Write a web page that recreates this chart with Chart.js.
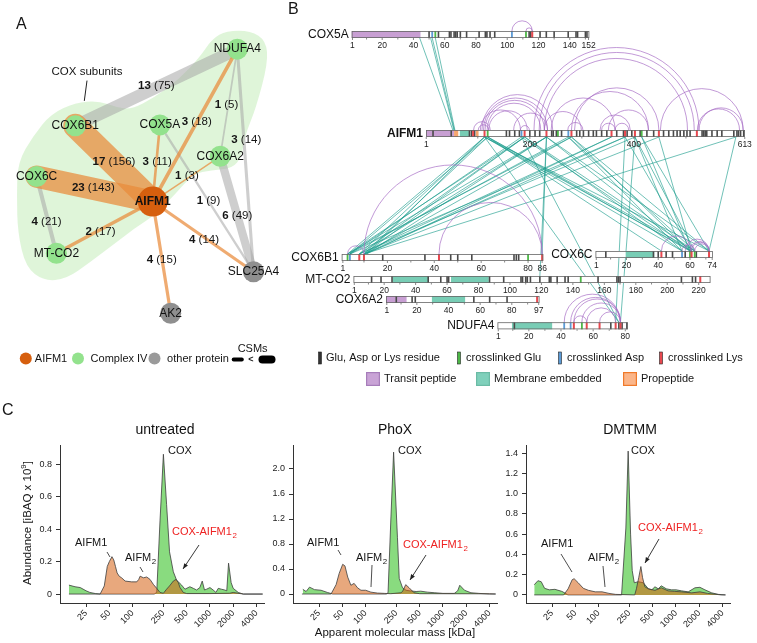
<!DOCTYPE html>
<html><head><meta charset="utf-8">
<script src="https://cdn.jsdelivr.net/npm/chart.js@4/dist/chart.umd.min.js"></script>
<style>
html,body{margin:0;padding:0;background:#fff;}
#wrap{position:relative;width:757px;height:643px;overflow:hidden;background:#fff;}
canvas{position:absolute;}
</style></head><body>
<div id="wrap">
<canvas id="cA" style="left:0;top:0" width="300" height="392"></canvas>
<canvas id="cB" style="left:280px;top:0" width="477" height="392"></canvas>
<canvas id="cU" style="left:0;top:395px" width="270" height="248"></canvas>
<canvas id="cP" style="left:233px;top:395px" width="270" height="248"></canvas>
<canvas id="cD" style="left:466px;top:395px" width="270" height="248"></canvas>
</div>
<script>
// ================= DATA =================
// Panel A : crosslink network
const nodeNames = ['NDUFA4','COX6B1','COX5A','COX6A2','COX6C','AIFM1','MT-CO2','SLC25A4','AK2'];
const nodeGroup = ['complexIV','complexIV','complexIV','complexIV','complexIV','AIFM1','complexIV','other','other'];
const edgeFrom  = ['COX6B1','COX6B1','COX6C','COX5A','NDUFA4','COX6A2','MT-CO2','AK2','SLC25A4','COX6C','COX5A','COX6A2','NDUFA4','COX6A2'];
const edgeTo    = ['NDUFA4','AIFM1','AIFM1','AIFM1','AIFM1','AIFM1','AIFM1','AIFM1','AIFM1','MT-CO2','SLC25A4','NDUFA4','SLC25A4','SLC25A4'];
const edgeLinks = [13,17,23,3,3,1,2,4,4,4,1,1,3,6];
const edgeCSMs  = [75,156,143,11,18,3,17,15,14,21,9,5,14,49];

// Panel B : protein maps
const bProteins = ['COX5A','AIFM1','COX6B1','COX6C','MT-CO2','COX6A2','NDUFA4'];
const bLength = {COX5A:152, AIFM1:613, COX6B1:86, COX6C:74, 'MT-CO2':227, COX6A2:97, NDUFA4:81};
const bTransit = {COX5A:[[1,44]], AIFM1:[[1,54]], COX6A2:[[1,13]]};
const bMembrane = {AIFM1:[[66,85]], COX6C:[[20,37]], 'MT-CO2':[[26,48],[63,86]], COX6A2:[[30,50]], NDUFA4:[[10,34]]};
const bPropeptide = {AIFM1:[[55,62],[97,101]]};
const bResidues = {
  COX5A:[50,56,63,64,66,67,68,70,74,82,86,87,89,92,114,115,121,125,130,139,144,145,150,151],
  AIFM1:[14,49,84,88,94,155,161,171,180,200,210,219,242,245,251,261,290,296,303,313,322,328,338,348,367,380,387,396,412,425,438,457,467,476,483,489,496,502,508,531,534,537,540,550,560,569,592,598,601,605,611],
  COX6B1:[18,36,47,50,56,74,75,76],
  COX6C:[7,37,40,45,49,57,64],
  'MT-CO2':[12,18,25,48,56,60,61,87,96,107,108,110,111,113,119,125,126,130,135,137,156,168,169,170,209,216,218],
  COX6A2:[7,17,19,56,66,77],
  NDUFA4:[11,71,76,78,81]
};
const bXlGlu = {COX5A:[54,112], AIFM1:[119,254,415], COX6B1:[3,80], COX6C:[60,63], 'MT-CO2':[145], NDUFA4:[53]};
const bXlAsp = {COX5A:[52,103], AIFM1:[184,274], COX6B1:[4], COX6C:[55], NDUFA4:[42,46]};
const bXlLys = {COX5A:[116], AIFM1:[91,113,190,232,280,357,383,402,448,521], COX6B1:[8,10,42,86], COX6C:[42,61,72], 'MT-CO2':[221], COX6A2:[96], NDUFA4:[48,56,64,74,77]};
const bTickLabels = {
  COX5A:[1,20,40,60,80,100,120,140,152], AIFM1:[1,200,400,613], COX6B1:[1,20,40,60,80,86],
  COX6C:[1,20,40,60,74], 'MT-CO2':[1,20,40,60,80,100,120,140,160,180,200,220],
  COX6A2:[1,20,40,60,80,97], NDUFA4:[1,20,40,60,80]
};
const bIntra = {
  COX5A:[[103,116],[112,116]],
  AIFM1:[[92,124],[101,121],[105,182],[108,244],[111,234],[114,228],[118,221],[121,195],[169,234],[182,199],[208,525],[218,516],[228,503],[228,299],[241,364],[273,302],[280,428],[286,448],[335,393],[338,364],[364,390],[351,428],[451,610],[525,610],[522,603]],
  COX6B1:[[3,10],[10,86],[42,86]],
  COX6C:[[42,61],[55,63],[60,72],[61,72],[63,72],[57,72]],
  NDUFA4:[[42,77],[46,77],[48,77],[53,77],[56,74],[64,77],[48,56]]
};
const bInter = [
  ['COX5A',44,'AIFM1',52],['COX5A',51,'AIFM1',54],['COX5A',52,'AIFM1',55],['COX5A',54,'AIFM1',56],
  ['AIFM1',113,'COX6B1',3],['AIFM1',190,'COX6B1',3],['AIFM1',232,'COX6B1',3],['AIFM1',280,'COX6B1',3],
  ['AIFM1',119,'COX6B1',4],['AIFM1',184,'COX6B1',4],['AIFM1',274,'COX6B1',4],['AIFM1',383,'COX6B1',4],
  ['AIFM1',113,'COX6B1',8],['AIFM1',190,'COX6B1',8],['AIFM1',232,'COX6B1',8],['AIFM1',357,'COX6B1',8],['AIFM1',402,'COX6B1',8],
  ['AIFM1',119,'COX6B1',10],['AIFM1',190,'COX6B1',10],['AIFM1',280,'COX6B1',10],['AIFM1',383,'COX6B1',10],['AIFM1',448,'COX6B1',10],['AIFM1',596,'COX6B1',10],
  ['AIFM1',113,'COX6B1',11],['AIFM1',232,'COX6B1',11],['AIFM1',357,'COX6B1',11],['AIFM1',232,'COX6B1',86],
  ['AIFM1',113,'COX6C',55],['AIFM1',190,'COX6C',55],['AIFM1',274,'COX6C',55],['AIFM1',402,'COX6C',55],
  ['AIFM1',119,'COX6C',60],['AIFM1',184,'COX6C',60],['AIFM1',280,'COX6C',60],['AIFM1',415,'COX6C',60],
  ['AIFM1',113,'COX6C',61],['AIFM1',232,'COX6C',61],['AIFM1',383,'COX6C',61],['AIFM1',448,'COX6C',61],
  ['AIFM1',119,'COX6C',63],['AIFM1',190,'COX6C',63],['AIFM1',274,'COX6C',63],['AIFM1',402,'COX6C',63],
  ['AIFM1',113,'COX6C',72],['AIFM1',232,'COX6C',72],['AIFM1',280,'COX6C',72],['AIFM1',596,'COX6C',72],['AIFM1',415,'COX6C',72],['AIFM1',119,'COX6C',42],
  ['AIFM1',113,'NDUFA4',76],['AIFM1',402,'NDUFA4',77],['AIFM1',383,'NDUFA4',74],['AIFM1',184,'NDUFA4',76],
  ['AIFM1',232,'MT-CO2',119]
];

// Panel C : abundance profiles [apparent mass kDa, iBAQ x 1e9]
const massTicks = [25,50,100,250,500,1000,2000,4000];
const untreatedCOX = [[15,0.055],[18,0.045],[21,0.04],[25,0.02],[28,0.01],[33,0.003],[38,0],[190,0],[205,0.01],[226,0.45],[250,0.86],[275,0.55],[300,0.26],[336,0.137],[370,0.086],[430,0.055],[475,0.03],[550,0.045],[610,0.035],[672,0.025],[740,0.04],[795,0.08],[850,0.025],[906,0.03],[1000,0.04],[1100,0.025],[1195,0.01],[1280,0.035],[1400,0.03],[1550,0.025],[1650,0.02],[1740,0.19],[1880,0.07],[2000,0.035],[2320,0.01],[2690,0],[4800,0]];
const untreatedAIFM1 = [[15,0],[38,0],[43,0.05],[47,0.17],[50,0.2],[54,0.23],[57,0.21],[60,0.17],[63,0.13],[67,0.11],[72,0.1],[80,0.08],[97,0.075],[113,0.075],[120,0.09],[125,0.11],[138,0.1],[152,0.105],[168,0.09],[185,0.06],[205,0.035],[226,0.01],[250,0.005],[275,0.03],[300,0.05],[336,0.08],[364,0.09],[390,0.07],[410,0.04],[452,0.01],[500,0.003],[1000,0.003],[1800,0.005],[2000,0.01],[2300,0.005],[2700,0],[4800,0]];
const phoxCOX = [[15.4,0.075],[17,0.04],[18.8,0.11],[21.8,0.07],[26.5,0.06],[32,0.025],[37.5,0],[185,0],[195,0.02],[212,1.2],[230,2.27],[258,0.9],[272,0.25],[300,0.1],[333,0.06],[376,0.05],[450,0.04],[517,0.045],[627,0.03],[784,0.02],[1000,0.01],[1400,0.01],[1550,0.05],[1650,0.14],[1900,0.06],[2300,0.02],[2900,0.01],[4000,0],[4800,0]];
const phoxAIFM1 = [[15,0],[35.7,0],[41.5,0.15],[45.5,0.33],[50.5,0.475],[54,0.45],[58.7,0.27],[64.5,0.14],[71,0.17],[78.5,0.1],[87,0.06],[100,0.06],[117,0.03],[142,0.015],[174,0.01],[212,0.005],[286,0.02],[300,0.04],[330,0.15],[365,0.1],[423,0.02],[500,0.005],[4000,0.003],[4800,0]];
const dmtmmCOX = [[14.7,0.1],[16.4,0.14],[18.1,0.13],[20,0.065],[23,0.05],[27.2,0.055],[33.3,0.035],[36.4,0.02],[40,0],[198,0],[225,0.66],[241,1.42],[259,0.6],[272,0.24],[289,0.12],[325,0.13],[378,0.12],[440,0.06],[487,0.05],[535,0.08],[591,0.06],[646,0.09],[750,0.06],[875,0.05],[1010,0.05],[1180,0.04],[1440,0.03],[1760,0.07],[2040,0.075],[2370,0.05],[2900,0.02],[3550,0.005],[4370,0]];
const dmtmmAIFM1 = [[14.7,0],[35.3,0],[40.3,0.06],[45.5,0.15],[48.2,0.16],[54.4,0.12],[63.4,0.065],[73.8,0.045],[90.6,0.03],[111,0.03],[136,0.015],[166,0.005],[293,0],[308,0.06],[330,0.17],[352,0.28],[370,0.17],[396,0.08],[440,0.06],[535,0.045],[646,0.07],[790,0.04],[960,0.035],[1180,0.03],[1600,0.02],[2040,0.03],[2560,0.015],[3840,0],[4370,0]];
const untreatedYTicks = [0,0.2,0.4,0.6,0.8];
const phoxYTicks = [0,0.4,0.8,1.2,1.6,2.0];
const dmtmmYTicks = [0,0.2,0.4,0.6,0.8,1.0,1.2,1.4];

// ================= LAYOUT / STYLE =================
const FONT = '"Liberation Sans", Arial, Helvetica, sans-serif';
Chart.defaults.font.family = FONT;
const nodeLayout = {NDUFA4:[247,37], COX6B1:[67,120], COX5A:[161,119], COX6A2:[228,153], COX6C:[24,175], AIFM1:[153,202], 'MT-CO2':[46,258], SLC25A4:[265,278], AK2:[173,323]};
const edgeLabelPos = [[157,77],[110,159],[87,187],[158,159],[202,116],[191,174],[95,235],[163,265],[210,243],[35,224],[215,201],[235,97],[257,135],[247,217]];
const hullPath = [[3,160],[20,131],[40,107],[67,95],[93,93],[112,100],[130,102],[155,89],[182,70],[205,46],[219,26],[235,17],[262,17],[279,28],[281,52],[268,100],[255,132],[252,153],[242,166],[218,168],[198,172],[178,194],[155,217],[133,231],[110,248],[83,268],[57,286],[32,288],[12,273],[3,236],[2,195]];
const groupColor = {complexIV:'#93E28D', AIFM1:'#D65F0E', other:'#8F8F8F'};
const bLayout = {
  COX5A:{x0:351.7,x1:589.3,y:31}, AIFM1:{x0:426,x1:745,y:130}, COX6B1:{x0:341.7,x1:543.3,y:254},
  COX6C:{x0:595.5,x1:713,y:251}, 'MT-CO2':{x0:353.5,x1:710.5,y:276}, COX6A2:{x0:386,x1:539.5,y:296},
  NDUFA4:{x0:497.5,x1:627.7,y:322.3}
};
const BAR_H = 7;

function txt(ctx, s, x, y, o) {
  o = o || {};
  ctx.save();
  ctx.font = (o.weight ? o.weight + ' ' : '') + (o.size || 11) + 'px ' + FONT;
  ctx.fillStyle = o.color || '#151515';
  ctx.textAlign = o.align || 'left';
  ctx.textBaseline = o.baseline || 'middle';
  ctx.fillText(s, x, y);
  ctx.restore();
}
function txtSub(ctx, main, sub, x, y, size, color) {
  ctx.save();
  ctx.font = size + 'px ' + FONT; ctx.fillStyle = color; ctx.textAlign = 'left'; ctx.textBaseline = 'middle';
  ctx.fillText(main, x, y);
  const w = ctx.measureText(main).width;
  ctx.font = (size * 0.72) + 'px ' + FONT;
  ctx.fillText(sub, x + w + 0.5, y + size * 0.32);
  ctx.restore();
}
function seg(ctx, p, color, w) {
  ctx.save(); ctx.strokeStyle = color || '#222'; ctx.lineWidth = w || 0.9;
  ctx.beginPath(); ctx.moveTo(p[0], p[1]); ctx.lineTo(p[2], p[3]); ctx.stroke(); ctx.restore();
}
function arrow(ctx, p) {
  const [x1, y1, x2, y2] = p;
  seg(ctx, p, '#222', 0.9);
  const a = Math.atan2(y2 - y1, x2 - x1), L = 6, W = 0.38;
  ctx.save(); ctx.fillStyle = '#222'; ctx.beginPath();
  ctx.moveTo(x2, y2);
  ctx.lineTo(x2 - L * Math.cos(a - W), y2 - L * Math.sin(a - W));
  ctx.lineTo(x2 - L * Math.cos(a + W), y2 - L * Math.sin(a + W));
  ctx.closePath(); ctx.fill(); ctx.restore();
}

// ================= PANEL A =================
const edgeWidth = c => 1 + 0.148 * c;
const aDatasets = [];
aDatasets.push({
  type:'scatter', label:'nodes',
  data: nodeNames.map(n => ({x:nodeLayout[n][0], y:nodeLayout[n][1]})),
  pointRadius: nodeNames.map(n => n === 'AIFM1' ? 15 : 10.5),
  backgroundColor: nodeGroup.map(g => groupColor[g]),
  borderWidth: 0, order: 0
});
edgeFrom.forEach((f, i) => {
  const t = edgeTo[i];
  const orange = (f === 'AIFM1' || t === 'AIFM1');
  aDatasets.push({
    type:'line', label:f + '-' + t,
    data:[{x:nodeLayout[f][0], y:nodeLayout[f][1]}, {x:nodeLayout[t][0], y:nodeLayout[t][1]}],
    borderColor: orange ? 'rgba(233,138,58,0.72)' : 'rgba(165,165,165,0.55)',
    borderWidth: edgeWidth(edgeCSMs[i]), borderCapStyle:'round',
    pointRadius:0, fill:false, tension:0, order: orange ? 1 : 2
  });
});
const aPlugin = {
  id:'aNet',
  beforeDatasetsDraw(chart) {
    const ctx = chart.ctx, sx = v => chart.scales.x.getPixelForValue(v), sy = v => chart.scales.y.getPixelForValue(v);
    const pts = hullPath.map(p => [sx(p[0]), sy(p[1])]);
    const n = pts.length;
    ctx.save(); ctx.fillStyle = 'rgba(150,222,128,0.30)'; ctx.beginPath();
    const mid = (a, b) => [(a[0] + b[0]) / 2, (a[1] + b[1]) / 2];
    let m0 = mid(pts[n - 1], pts[0]);
    ctx.moveTo(m0[0], m0[1]);
    for (let i = 0; i < n; i++) {
      const m = mid(pts[i], pts[(i + 1) % n]);
      ctx.quadraticCurveTo(pts[i][0], pts[i][1], m[0], m[1]);
    }
    ctx.closePath(); ctx.fill(); ctx.restore();
  },
  afterDatasetsDraw(chart) {
    const ctx = chart.ctx, sx = v => chart.scales.x.getPixelForValue(v), sy = v => chart.scales.y.getPixelForValue(v);
    nodeNames.forEach(n => {
      txt(ctx, n, sx(nodeLayout[n][0]), sy(nodeLayout[n][1]), {size:12, align:'center', weight: n === 'AIFM1' ? 'bold' : '', color:'#111'});
    });
    edgeLinks.forEach((k, i) => {
      const a = String(k), b = ' (' + edgeCSMs[i] + ')';
      ctx.save();
      ctx.font = 'bold 11.5px ' + FONT; const wa = ctx.measureText(a).width;
      ctx.font = '11.5px ' + FONT; const wb = ctx.measureText(b).width;
      ctx.restore();
      const x0 = sx(edgeLabelPos[i][0]) - (wa + wb) / 2, y = sy(edgeLabelPos[i][1]);
      txt(ctx, a, x0, y, {size:11.5, weight:'bold'});
      txt(ctx, b, x0 + wa, y, {size:11.5});
    });
    txt(ctx, 'COX subunits', sx(80), sy(62), {size:11.5, align:'center'});
    seg(ctx, [sx(80), sy(71), sx(77), sy(93)], '#222', 1);
    txt(ctx, 'A', sx(1), sy(10), {size:16});
    // legend
    const ly = sy(372);
    const dot = (x, c) => { ctx.save(); ctx.fillStyle = c; ctx.beginPath(); ctx.arc(sx(x), ly, 6, 0, 2 * Math.PI); ctx.fill(); ctx.restore(); };
    dot(12, groupColor.AIFM1); txt(ctx, 'AIFM1', sx(22), ly, {size:11});
    dot(70, groupColor.complexIV); txt(ctx, 'Complex IV', sx(84), ly, {size:11});
    dot(155, '#9a9a9a'); txt(ctx, 'other protein', sx(169), ly, {size:11});
    const pill = (x0, x1, h) => { ctx.save(); ctx.strokeStyle = '#000'; ctx.lineCap = 'round'; ctx.lineWidth = h; ctx.beginPath(); ctx.moveTo(sx(x0), ly + 1); ctx.lineTo(sx(x1), ly + 1); ctx.stroke(); ctx.restore(); };
    pill(243, 252, 4); txt(ctx, '<', sx(262), ly + 1, {size:9, align:'center', weight:'bold'}); pill(275, 285, 8);
    txt(ctx, 'CSMs', sx(264), sy(362), {size:11, align:'center'});
  }
};
new Chart(document.getElementById('cA'), {
  type:'scatter',
  data:{datasets:aDatasets},
  options:{
    responsive:false, animation:false, events:[], devicePixelRatio:1,
    layout:{padding:0},
    plugins:{legend:{display:false}, tooltip:{enabled:false}},
    scales:{x:{type:'linear', display:false, min:0, max:300}, y:{type:'linear', display:false, min:0, max:392, reverse:true}}
  },
  plugins:[aPlugin]
});

// ================= PANEL B =================
const bPlugin = {
  id:'bMaps',
  afterDatasetsDraw(chart) {
    const ctx = chart.ctx, sx = v => chart.scales.x.getPixelForValue(v), sy = v => chart.scales.y.getPixelForValue(v);
    const rx = (p, r) => { const L = bLayout[p]; return sx(L.x0 + (r - 0.5) / bLength[p] * (L.x1 - L.x0)); };
    const rEdge = (p, r0, r1) => [sx(bLayout[p].x0 + (r0 - 1) / bLength[p] * (bLayout[p].x1 - bLayout[p].x0)), sx(bLayout[p].x0 + r1 / bLength[p] * (bLayout[p].x1 - bLayout[p].x0))];
    const top = p => sy(bLayout[p].y), bot = p => sy(bLayout[p].y + BAR_H);
    // inter-protein crosslinks
    ctx.save(); ctx.strokeStyle = 'rgba(25,155,138,0.78)'; ctx.lineWidth = 0.8;
    bInter.forEach(([pa, ra, pb, rb]) => {
      const up = bLayout[pa].y < bLayout[pb].y;
      const ya = up ? bot(pa) : top(pa), yb = up ? top(pb) : bot(pb);
      ctx.beginPath(); ctx.moveTo(rx(pa, ra), ya); ctx.lineTo(rx(pb, rb), yb); ctx.stroke();
    });
    ctx.restore();
    // intra-protein crosslinks (arcs)
    ctx.save(); ctx.strokeStyle = 'rgba(165,105,195,0.85)'; ctx.lineWidth = 0.8;
    Object.keys(bIntra).forEach(p => {
      bIntra[p].forEach(([a, b]) => {
        const xa = rx(p, a), xb = rx(p, b), c = (xa + xb) / 2, r = Math.abs(xb - xa) / 2;
        ctx.beginPath(); ctx.arc(c, top(p), r, Math.PI, 2 * Math.PI); ctx.stroke();
      });
    });
    ctx.restore();
    // protein bars
    bProteins.forEach(p => {
      const L = bLayout[p], x0 = sx(L.x0), x1 = sx(L.x1), y0 = top(p), y1 = bot(p);
      ctx.save();
      ctx.fillStyle = '#fff'; ctx.fillRect(x0, y0, x1 - x0, y1 - y0);
      const dom = (list, col) => (list[p] || []).forEach(([a, b]) => { const e = rEdge(p, a, b); ctx.fillStyle = col; ctx.fillRect(e[0], y0, e[1] - e[0], y1 - y0); });
      dom(bTransit, '#C89FD3'); dom(bPropeptide, '#F6A56E'); dom(bMembrane, '#78CDB5');
      const tick = (list, col, w) => (list[p] || []).forEach(r => { ctx.fillStyle = col; ctx.fillRect(rx(p, r) - w / 2, y0, w, y1 - y0); });
      tick(bResidues, '#4a4a4a', 1.6);
      tick(bXlGlu, '#4DB847', 1.8); tick(bXlAsp, '#5C9BD6', 1.8); tick(bXlLys, '#E8484F', 2);
      ctx.strokeStyle = '#666'; ctx.lineWidth = 0.8; ctx.strokeRect(x0 + 0.4, y0 + 0.4, x1 - x0 - 0.8, y1 - y0 - 0.8);
      // axis ticks + labels
      const labs = bTickLabels[p];
      ctx.strokeStyle = '#555'; ctx.lineWidth = 0.7;
      labs.forEach(v => {
        const x = rx(p, v);
        ctx.beginPath(); ctx.moveTo(x, y1); ctx.lineTo(x, y1 + 2); ctx.stroke();
        txt(ctx, String(v), x, y1 + 7.5, {size:8.5, align:'center', color:'#222'});
      });
      const minorStep = p === 'AIFM1' ? 100 : (labs[1] - 0) / 2;
      for (let v = minorStep; v < bLength[p]; v += minorStep * 2) {
        const x = rx(p, v); ctx.beginPath(); ctx.moveTo(x, y1); ctx.lineTo(x, y1 + 1.5); ctx.stroke();
      }
      ctx.restore();
      txt(ctx, p, x0 - 3, (y0 + y1) / 2, {size:12, align:'right', weight: p === 'AIFM1' ? 'bold' : '', color:'#111'});
    });
    txt(ctx, 'B', sx(288), sy(10), {size:16});
    // legend
    const y1 = sy(358), y2 = sy(379);
    const bar = (x, col) => { ctx.save(); ctx.fillStyle = col; ctx.fillRect(sx(x) - 1.5, y1 - 6, 3, 12); ctx.strokeStyle = '#222'; ctx.lineWidth = 0.6; ctx.strokeRect(sx(x) - 1.5, y1 - 6, 3, 12); ctx.restore(); };
    bar(320, '#333'); txt(ctx, 'Glu, Asp or Lys residue', sx(326), y1, {size:11});
    bar(459, '#4DB847'); txt(ctx, 'crosslinked Glu', sx(466), y1, {size:11});
    bar(560, '#5C9BD6'); txt(ctx, 'crosslinked Asp', sx(567), y1, {size:11});
    bar(661, '#E8484F'); txt(ctx, 'crosslinked Lys', sx(668), y1, {size:11});
    const box = (x, fill, stroke) => { ctx.save(); ctx.fillStyle = fill; ctx.fillRect(sx(x), y2 - 7, 14, 14); ctx.strokeStyle = stroke; ctx.lineWidth = 1.2; ctx.strokeRect(sx(x) + 0.6, y2 - 6.4, 12.8, 12.8); ctx.restore(); };
    box(366, '#C9A3D6', '#A77DBA'); txt(ctx, 'Transit peptide', sx(384), y2, {size:11});
    box(476, '#7FD0BB', '#6BBBA5'); txt(ctx, 'Membrane embedded', sx(494), y2, {size:11});
    box(623, '#FBB68A', '#F07A2A'); txt(ctx, 'Propeptide', sx(641), y2, {size:11});
  }
};
new Chart(document.getElementById('cB'), {
  type:'scatter',
  data:{datasets:[{label:'maps', data:[]}]},
  options:{
    responsive:false, animation:false, events:[], devicePixelRatio:1,
    layout:{padding:0},
    plugins:{legend:{display:false}, tooltip:{enabled:false}},
    scales:{x:{type:'linear', display:false, min:280, max:757}, y:{type:'linear', display:false, min:0, max:392, reverse:true}}
  },
  plugins:[bPlugin]
});

// ================= PANEL C =================
function notesPlugin(n, offX, offY) {
  return {
    id:'notes' + n.title,
    afterDraw(chart) {
      const ctx = chart.ctx;
      ctx.save(); ctx.translate(-offX, -offY);
      txt(ctx, n.title, n.titleX, 430, {size:14, align:'center', color:'#111'});
      txt(ctx, 'COX', n.cox[0], n.cox[1], {size:11});
      txt(ctx, 'AIFM1', n.aifm[0], n.aifm[1], {size:11});
      seg(ctx, n.aifmLead, '#222', 0.8);
      txtSub(ctx, 'AIFM', '2', n.dimer[0], n.dimer[1], 11, '#151515');
      seg(ctx, n.dimerLead, '#222', 0.8);
      txtSub(ctx, 'COX-AIFM1', '2', n.complex[0], n.complex[1], 11, '#EE2222');
      arrow(ctx, n.arrow);
      if (n.xTitle) txt(ctx, 'Apparent molecular mass [kDa]', 395, 633, {size:11.5, align:'center'});
      if (n.yTitle) {
        ctx.save(); ctx.translate(28, 523); ctx.rotate(-Math.PI / 2);
        ctx.font = '11.5px ' + FONT; ctx.fillStyle = '#151515'; ctx.textBaseline = 'middle';
        const s1 = 'Abundance [iBAQ x 10', s3 = ']';
        ctx.font = '11.5px ' + FONT; const w1 = ctx.measureText(s1).width;
        ctx.font = '8px ' + FONT; const w2 = ctx.measureText('9').width;
        ctx.font = '11.5px ' + FONT; const w3 = ctx.measureText(s3).width;
        let x = -(w1 + w2 + w3) / 2;
        ctx.textAlign = 'left';
        ctx.fillText(s1, x, 0); x += w1;
        ctx.font = '8px ' + FONT; ctx.fillText('9', x, -4); x += w2;
        ctx.font = '11.5px ' + FONT; ctx.fillText(s3, x, 0);
        ctx.restore();
      }
      if (n.letter) txt(ctx, 'C', 2, 411, {size:16});
      ctx.restore();
    }
  };
}
function panelC(id, offX, offY, cox, aifm, yMin, yMax, yTicks, notes) {
  new Chart(document.getElementById(id), {
    type:'line',
    data:{datasets:[
      {label:'COX', data:cox.map(p => ({x:p[0], y:p[1]})), fill:'origin', backgroundColor:'rgba(40,190,22,0.55)', borderColor:'#3d3d3d', borderWidth:0.8, pointRadius:0, tension:0, order:1},
      {label:'AIFM1', data:aifm.map(p => ({x:p[0], y:p[1]})), fill:'origin', backgroundColor:'rgba(214,96,18,0.55)', borderColor:'#3d3d3d', borderWidth:0.8, pointRadius:0, tension:0, order:0}
    ]},
    options:{
      responsive:false, animation:false, events:[], devicePixelRatio:1,
      layout:{padding:{left:0, top:50, right:6, bottom:0}},
      plugins:{legend:{display:false}, tooltip:{enabled:false}},
      scales:{
        x:{type:'logarithmic', min:11.5, max:5000,
           afterBuildTicks: s => { s.ticks = massTicks.map(v => ({value:v})); },
           afterFit: s => { s.height = 40; },
           ticks:{autoSkip:false, maxRotation:45, minRotation:45, font:{size:9, family:FONT}, color:'#222', padding:1, callback: v => String(v)},
           grid:{drawOnChartArea:false, drawTicks:true, tickLength:4, color:'#333'},
           border:{display:true, color:'#333', width:1}},
        y:{type:'linear', min:yMin, max:yMax,
           afterBuildTicks: s => { s.ticks = yTicks.map(v => ({value:v})); },
           afterFit: s => { s.width = 60; },
           ticks:{font:{size:9, family:FONT}, color:'#222', padding:4, callback: v => v === 0 ? '0' : Number(v).toFixed(1)},
           grid:{drawOnChartArea:false, drawTicks:true, tickLength:4, color:'#333'},
           border:{display:true, color:'#333', width:1}}
      }
    },
    plugins:[notesPlugin(notes, offX, offY)]
  });
}
panelC('cU', 0, 395, untreatedCOX, untreatedAIFM1, -0.055, 0.917, untreatedYTicks, {
  title:'untreated', titleX:165, cox:[168,451], aifm:[75,543], aifmLead:[107,552,110,557],
  dimer:[125,558], dimerLead:[140,567,143,572], complex:[172,532], arrow:[199,545,183,569], yTitle:true, letter:true
});
panelC('cP', 233, 395, phoxCOX, phoxAIFM1, -0.144, 2.384, phoxYTicks, {
  title:'PhoX', titleX:395, cox:[398,451], aifm:[307,543], aifmLead:[338,550,341,555],
  dimer:[356,558], dimerLead:[372,565,371,587], complex:[403,545], arrow:[426,555,410,580], xTitle:true
});
panelC('cD', 466, 395, dmtmmCOX, dmtmmAIFM1, -0.08, 1.48, dmtmmYTicks, {
  title:'DMTMM', titleX:630, cox:[631,451], aifm:[541,544], aifmLead:[561,554,572,572],
  dimer:[588,558], dimerLead:[603,566,605,587], complex:[638,528], arrow:[659,539,645,563]
});
</script>
</body></html>
